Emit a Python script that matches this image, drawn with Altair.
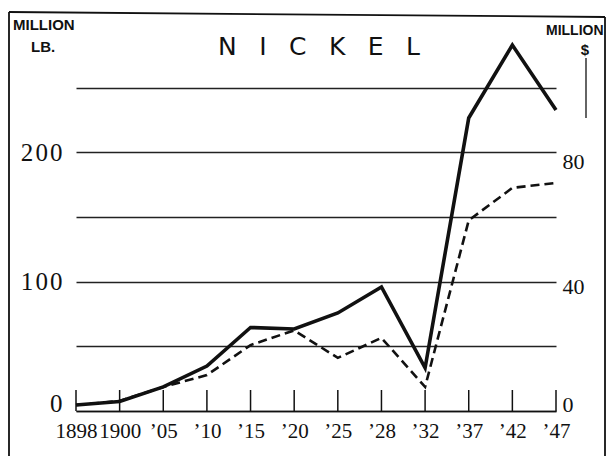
import altair as alt
import pandas as pd

# ---- data ----
years = ["1898", "1900", "\u201905", "\u201910", "\u201915", "\u201920",
         "\u201925", "\u201928", "\u201932", "\u201937", "\u201942", "\u201947"]
lb_values = [4.6, 7.3, 18.6, 34.8, 64.6, 63.4, 75.8, 95.9, 33.3, 226.6, 283.0, 232.8]
usd_values = [1.9, 3.2, 7.7, 11.5, 21.1, 25.8, 17.0, 23.4, 7.7, 61.0, 71.4, 73.0]

left_ticks = [0, 50, 100, 150, 200, 250]
right_ticks = [0, 40, 80]
title_word = "NICKEL"
left_unit = ["MILLION", "LB."]
right_unit = ["MILLION", "$"]

df = pd.DataFrame({"year": years, "lb": lb_values, "usd": usd_values})

INK = "#111111"
W, H = 480, 375
SANS = "'Liberation Sans', sans-serif"
SERIF = "'Liberation Serif', serif"

x_enc = alt.X(
    "year:O", sort=years,
    scale=alt.Scale(type="point", padding=0),
    axis=alt.Axis(title=None, labelAngle=0, labelFont=SERIF, labelFontSize=21,
                  labelColor=INK, ticks=False, domainColor=INK, domainWidth=1.6,
                  labelPadding=9, labelOverlap=False, grid=False),
)

base = alt.Chart(df)

solid = base.mark_line(color=INK, strokeWidth=3.6, strokeJoin="miter").encode(
    x=x_enc,
    y=alt.Y("lb:Q", scale=alt.Scale(domain=[0, 290], nice=False),
            axis=alt.Axis(title=None, values=left_ticks, grid=True, gridColor="#222222",
                          gridWidth=1.3, ticks=False, domain=False,
                          labelFont=SERIF, labelFontSize=25, labelColor=INK,
                          labelPadding=14,
                          labelExpr="datum.value % 100 == 0 ? join(split(datum.label, ''), '\u200a') : ''",
                          labelBaseline=alt.condition("datum.value == 0", alt.value("alphabetic"), alt.value("middle")))),
)

dashed = base.mark_line(color=INK, strokeWidth=2.6, strokeDash=[9, 5]).encode(
    x=x_enc,
    y=alt.Y("usd:Q", scale=alt.Scale(domain=[0, 120], nice=False),
            axis=alt.Axis(title=None, orient="right", values=right_ticks, grid=False,
                          ticks=False, domain=False, labelFont=SERIF, labelFontSize=22,
                          labelColor=INK, labelPadding=6,
                          labelBaseline=alt.condition("datum.value == 0", alt.value("alphabetic"), alt.value("middle")))),
)

ticks = base.mark_rule(color=INK, strokeWidth=1.5).encode(
    x=x_enc, y=alt.value(H), y2=alt.value(H - 21)
)

def text_layer(txt, xv, yv, font, size, weight="normal", align="left"):
    return alt.Chart(pd.DataFrame({"t": [txt]})).mark_text(
        font=font, fontSize=size, fontWeight=weight, align=align, baseline="middle", color=INK
    ).encode(text="t:N", x=alt.value(xv), y=alt.value(yv))

title = text_layer("\u2002\u2009\u2009".join(title_word), 243, 11, "'DejaVu Sans', sans-serif", 25, align="center")
l1 = text_layer(left_unit[0], -63, -11, SANS, 15, "bold")
l2 = text_layer(left_unit[1], -45, 11, SANS, 15, "bold")
r1 = text_layer(right_unit[0], 470, -5, SANS, 14, "bold")
r2 = text_layer(right_unit[1], 509, 14, SANS, 15, "bold", align="center")

def seg(x1, y1, x2, y2, w=1.6):
    return alt.Chart(pd.DataFrame({"k": [0]})).mark_rule(color=INK, strokeWidth=w).encode(
        x=alt.value(x1), y=alt.value(y1), x2=alt.value(x2), y2=alt.value(y2)
    )

stem = seg(510, 22, 510, 82, 1.3)
border_top = seg(-67, -24, 529, -19, 1.8)
border_left = seg(-67, -24, -67, 440, 1.8)
border_right = seg(529, -19, 529, 440, 1.8)

chart = alt.layer(
    solid, dashed, ticks, title, l1, l2, r1, r2, stem, border_top, border_left, border_right
).resolve_scale(y="independent").properties(
    width=W, height=H,
    padding={"left": 68, "top": 28, "right": 52, "bottom": 45},
    autosize=alt.AutoSizeParams(type="none"),
    background="white",
).configure_view(stroke=None)

chart.save("out.html", embed_options={"renderer": "svg", "actions": False})
